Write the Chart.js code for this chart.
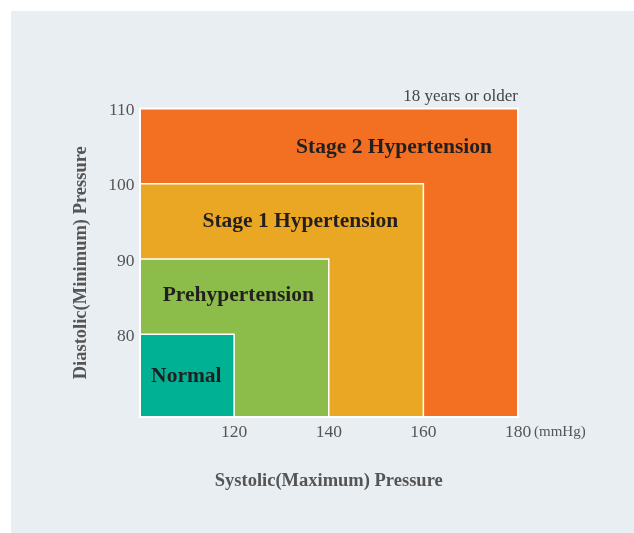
<!DOCTYPE html>
<html>
<head>
<meta charset="utf-8">
<script src="https://cdn.jsdelivr.net/npm/chart.js@4.4.1/dist/chart.umd.min.js"></script>
<style>
  html, body { margin: 0; padding: 0; background: #fff; }
  #wrap { position: relative; width: 634px; height: 533px; }
  #panel { position: absolute; left: 11px; top: 11px; right: 0; bottom: 0; background: #e9eef2; }
  #grafico { position: absolute; left: 0; top: 0; }
</style>
</head>
<body>
<div id="wrap">
  <div id="panel"></div>
  <canvas id="grafico" width="634" height="533"></canvas>
</div>
<script>
// categories, from the innermost box to the outer one
const categories = ['Normal', 'Prehypertension', 'Stage 1 Hypertension', 'Stage 2 Hypertension'];
const systolicMax = [120, 140, 160, 180];
const diastolicMax = [80, 90, 100, 110];
const colors = ['#00b194', '#8cbd4b', '#eaa723', '#f37022'];

// where each name sits, in mmHg (centre x, baseline y)
const labelSys = [109.9, 120.9, 134.0, 153.8];
const labelDia = [73.6, 84.4, 94.2, 104.1];

const xTicks = [120, 140, 160, 180];
const yTicks = [80, 90, 100, 110];
const xMin = 100, xMax = 180;
const yMin = 69, yMax = 110;

const serif = '"Liberation Serif", "Times New Roman", serif';

const datasets = categories.map((name, i) => ({
  label: name,
  data: [
    { x: xMin, y: diastolicMax[i] },
    { x: systolicMax[i], y: diastolicMax[i] },
    { x: systolicMax[i], y: yMin }
  ],
  backgroundColor: colors[i],
  borderColor: '#ffffff',
  borderWidth: i === 3 ? 2 : 1.5,
  borderJoinStyle: 'miter',
  pointRadius: 0,
  fill: 'start',
  clip: false
}));

const textos = {
  id: 'textos',
  afterDatasetsDraw(chart) {
    const { ctx, chartArea, scales: { x, y } } = chart;
    ctx.save();
    ctx.fillStyle = '#231f20';
    ctx.font = 'bold 21.5px ' + serif;
    ctx.textAlign = 'center';
    ctx.textBaseline = 'alphabetic';
    categories.forEach((name, i) => {
      ctx.fillText(name, x.getPixelForValue(labelSys[i]), y.getPixelForValue(labelDia[i]));
    });

    ctx.fillStyle = '#444';
    ctx.font = '17px ' + serif;
    ctx.textAlign = 'right';
    ctx.fillText('18 years or older', chartArea.right, chartArea.top - 7.5);

    ctx.fillStyle = '#555';
    ctx.font = '15px ' + serif;
    ctx.textAlign = 'left';
    ctx.textBaseline = 'middle';
    ctx.fillText('(mmHg)', x.getPixelForValue(xMax) + 16, x.top + 15);
    ctx.restore();
  }
};

const ctx = document.getElementById('grafico').getContext('2d');

new Chart(ctx, {
  type: 'line',
  data: { datasets },
  options: {
    responsive: false,
    animation: false,
    events: [],
    layout: { padding: { top: 108.5, right: 116, bottom: 0, left: 0 } },
    plugins: {
      legend: { display: false },
      tooltip: { enabled: false }
    },
    scales: {
      x: {
        type: 'linear',
        min: xMin,
        max: xMax,
        afterBuildTicks: s => { s.ticks = xTicks.map(v => ({ value: v })); },
        afterFit: s => { s.height = 116; },
        grid: { display: false, drawTicks: false },
        border: { display: true, color: '#ffffff', width: 2, z: 1 },
        ticks: {
          color: '#555',
          font: { family: serif, size: 17.5 },
          padding: 5,
          autoSkip: false,
          maxRotation: 0
        },
        title: {
          display: true,
          text: 'Systolic(Maximum) Pressure',
          color: '#555',
          font: { family: serif, size: 18.5, weight: 'bold' },
          padding: { top: 0, bottom: 41 }
        }
      },
      y: {
        min: yMin,
        max: yMax,
        afterBuildTicks: s => { s.ticks = yTicks.map(v => ({ value: v })); },
        afterFit: s => { s.width = 139.5; },
        grid: { display: false, drawTicks: false },
        border: { display: true, color: '#ffffff', width: 2, z: 1 },
        ticks: {
          color: '#555',
          font: { family: serif, size: 17.5 },
          padding: 5,
          labelOffset: 2
        },
        title: {
          display: true,
          text: 'Diastolic(Minimum) Pressure',
          color: '#555',
          font: { family: serif, size: 18.5, weight: 'bold' },
          padding: { top: 70, bottom: 0 }
        }
      }
    }
  },
  plugins: [textos]
});
</script>
</body>
</html>
